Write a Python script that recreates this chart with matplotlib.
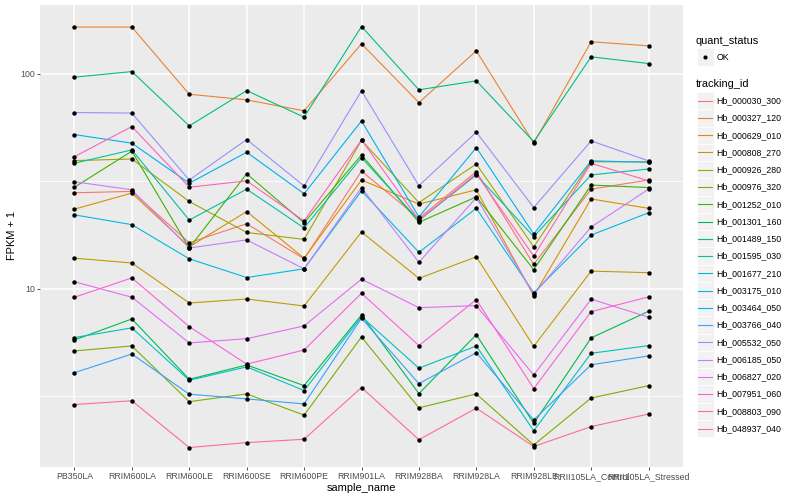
import matplotlib
matplotlib.use("Agg")
import matplotlib.pyplot as plt
from matplotlib.patches import Rectangle
from matplotlib.ticker import FixedLocator, NullFormatter

plt.rcParams['font.family'] = ['Liberation Sans', 'DejaVu Sans']

samples = ["PB350LA", "RRIM600LA", "RRIM600LE", "RRIM600SE", "RRIM600PE", "RRIM901LA",
           "RRIM928BA", "RRIM928LA", "RRIM928LE", "RRII105LA_Control", "RRII105LA_Stressed"]

tracking_ids = ["Hb_000030_300", "Hb_000327_120", "Hb_000629_010", "Hb_000808_270",
                "Hb_000926_280", "Hb_000976_320", "Hb_001252_010", "Hb_001301_160",
                "Hb_001489_150", "Hb_001595_030", "Hb_001677_210", "Hb_003175_010",
                "Hb_003464_050", "Hb_003766_040", "Hb_005532_050", "Hb_006185_050",
                "Hb_006827_020", "Hb_007951_060", "Hb_008803_090", "Hb_048937_040"]

colors = ["#F8766D", "#EA8331", "#D89000", "#C09B00", "#A3A500", "#7CAE00", "#39B600",
          "#00BB4E", "#00BF7D", "#00C1A3", "#00BFC4", "#00BAE0", "#00B0F6", "#35A2FF",
          "#9590FF", "#C77CFF", "#E76BF3", "#FA62DB", "#FF62BC", "#FF6C91"]

# FPKM + 1 values per tracking_id, in sample order
Hb_000030_300 = [28.0, 28.4, 16.4, 20.1, 13.8, 35.3, 21.3, 35.1, 13.0, 29.1, 32.1]
Hb_000327_120 = [165, 165, 80.4, 75.7, 67.3, 138, 73.5, 128, 47.6, 141, 135]
Hb_000629_010 = [23.5, 27.9, 15.7, 22.9, 13.9, 32.1, 24.8, 28.9, 9.3, 26.2, 23.7]
Hb_000808_270 = [13.9, 13.2, 8.6, 8.98, 8.33, 18.4, 11.2, 14.1, 5.41, 12.1, 11.9]
Hb_000926_280 = [39.5, 40.2, 25.5, 18.3, 17.0, 49.1, 25.2, 38.1, 15.7, 39.0, 39.0]
Hb_000976_320 = [5.15, 5.43, 2.99, 3.25, 2.59, 5.98, 2.80, 3.25, 1.88, 3.11, 3.55]
Hb_001252_010 = [29.7, 43.7, 15.5, 34.3, 20.3, 42.0, 20.4, 26.8, 12.3, 30.4, 29.6]
Hb_001301_160 = [5.79, 7.25, 3.80, 4.43, 3.55, 7.57, 3.26, 6.13, 2.37, 5.92, 7.87]
Hb_001489_150 = [96.5, 102.5, 57.3, 83.6, 62.9, 166, 84.3, 92.8, 48.4, 120, 111.7]
Hb_001595_030 = [38.4, 44.3, 20.9, 29.1, 19.2, 40.8, 20.8, 33.9, 17.5, 33.9, 36.1]
Hb_001677_210 = [5.94, 6.59, 3.76, 4.34, 3.37, 7.43, 4.28, 5.43, 2.19, 5.02, 5.45]
Hb_003175_010 = [22.1, 19.9, 13.8, 11.3, 12.4, 28.6, 14.8, 23.7, 9.6, 17.8, 22.6]
Hb_003464_050 = [52.2, 47.6, 31.0, 43.2, 27.7, 60.4, 21.6, 45.4, 18.0, 39.4, 38.8]
Hb_003766_040 = [4.08, 4.98, 3.24, 3.08, 2.92, 7.31, 3.63, 5.05, 2.46, 4.44, 4.88]
Hb_005532_050 = [66.1, 65.7, 32.1, 49.5, 30.1, 83.4, 30.2, 53.6, 23.9, 48.8, 39.4]
Hb_006185_050 = [31.5, 28.9, 15.5, 16.9, 12.4, 29.6, 13.3, 26.6, 9.45, 19.4, 29.1]
Hb_006827_020 = [10.8, 9.15, 5.61, 5.87, 6.73, 11.1, 8.18, 8.36, 3.98, 8.96, 7.39]
Hb_007951_060 = [9.15, 11.25, 6.68, 4.47, 5.2, 9.55, 5.45, 8.92, 3.44, 7.84, 9.18]
Hb_008803_090 = [41.2, 56.9, 29.7, 31.8, 20.7, 49.3, 20.9, 34.3, 14.2, 38.4, 31.8]
Hb_048937_040 = [2.90, 3.02, 1.83, 1.93, 2.00, 3.48, 1.99, 2.79, 1.85, 2.29, 2.62]

series = [Hb_000030_300, Hb_000327_120, Hb_000629_010, Hb_000808_270, Hb_000926_280,
          Hb_000976_320, Hb_001252_010, Hb_001301_160, Hb_001489_150, Hb_001595_030,
          Hb_001677_210, Hb_003175_010, Hb_003464_050, Hb_003766_040, Hb_005532_050,
          Hb_006185_050, Hb_006827_020, Hb_007951_060, Hb_008803_090, Hb_048937_040]

W, H = 800, 500
fig = plt.figure(figsize=(W / 100, H / 100), dpi=100)
ax = fig.add_axes([40 / W, 33 / H, 643 / W, 462 / H])
ax.set_facecolor('#EBEBEB')
for sp in ax.spines.values():
    sp.set_visible(False)

ax.set_yscale('log')
ax.set_ylim(1.486, 209)
xs = list(range(len(samples)))
ax.set_xlim(-0.6, len(samples) - 1 + 0.6)

ax.yaxis.set_major_locator(FixedLocator([10, 100]))
ax.set_yticklabels(['10', '100'])
ax.yaxis.set_minor_locator(FixedLocator([10 ** 0.5, 10 ** 1.5]))
ax.yaxis.set_minor_formatter(NullFormatter())
ax.set_xticks(xs)
ax.set_xticklabels(samples)

ax.grid(which='major', color='white', linewidth=1.1)
ax.grid(which='minor', axis='y', color='white', linewidth=0.55)
ax.set_axisbelow(True)
ax.tick_params(axis='both', which='major', length=2.2, width=0.6, color='#333333',
               labelsize=6.3, labelcolor='#4D4D4D', pad=1.6)
ax.tick_params(axis='y', which='minor', length=0)

for vals, c in zip(series, colors):
    ax.plot(xs, vals, color=c, linewidth=0.8, zorder=2)
for vals in series:
    ax.plot(xs, vals, linestyle='none', marker='o', markersize=3.2, color='black',
            markeredgewidth=0, zorder=3)

fig.text(361.5 / W, 1 - 488 / H, 'sample_name', ha='center', va='center', fontsize=7.9)
fig.text(12 / W, 1 - 236 / H, 'FPKM + 1', ha='center', va='center', fontsize=7.9,
         rotation=90)

# legend drawn in pixel coordinates
lax = fig.add_axes([0, 0, 1, 1], facecolor='none')
lax.set_xlim(0, W)
lax.set_ylim(H, 0)
lax.axis('off')

kx, kw, kh = 696.5, 17.3, 17.26
lax.text(696, 40.7, 'quant_status', fontsize=7.9, va='center', ha='left')
lax.add_patch(Rectangle((kx, 57 - kh / 2), kw, kh, facecolor='#F2F2F2', edgecolor='white',
                        linewidth=0.6))
lax.plot([kx + kw / 2], [57], marker='o', markersize=3.0, color='black', markeredgewidth=0)
lax.text(716.5, 57, 'OK', fontsize=6.3, va='center', ha='left')

lax.text(696, 84.3, 'tracking_id', fontsize=7.9, va='center', ha='left')
for i, (tid, c) in enumerate(zip(tracking_ids, colors)):
    yc = 100.7 + i * kh
    lax.add_patch(Rectangle((kx, yc - kh / 2), kw, kh, facecolor='#F2F2F2',
                            edgecolor='white', linewidth=0.6))
    lax.plot([kx + 1.5, kx + kw - 1.5], [yc, yc], color=c, linewidth=0.8)
    lax.text(716.5, yc, tid, fontsize=6.3, va='center', ha='left')

fig.savefig('out.png', dpi=100)
